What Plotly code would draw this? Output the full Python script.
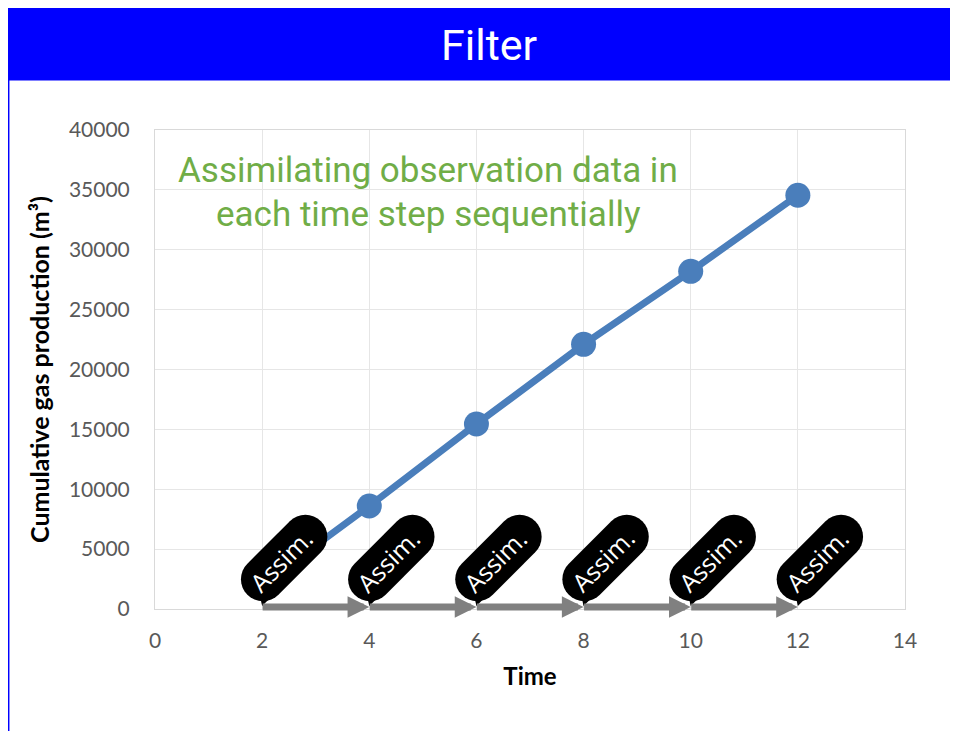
import numpy as np
import plotly.graph_objects as go

# ---------------- data ----------------
time_steps = [2, 4, 6, 8, 10, 12]
cum_gas = [2000, 8600, 15450, 22100, 28200, 34550]
assim_steps = [2, 4, 6, 8, 10, 12]
arrow_from = [2, 4, 6, 8, 10]
arrow_to = [4, 6, 8, 10, 12]
x_ticks = [0, 2, 4, 6, 8, 10, 12, 14]
y_ticks = [0, 5000, 10000, 15000, 20000, 25000, 30000, 35000, 40000]
title_text = "Filter"
note_lines = ["Assimilating observation data in", "each time step sequentially"]
callout_text = "Assim."
x_title = "Time"
y_title = "Cumulative gas production (m³)"

# ---------------- layout geometry ----------------
# the page body has an 8px margin, so the figure is sized to fit the window
OFF = 8
W, H = 958 - OFF, 739 - 2 * OFF
ML, MR, MT, MB = 155 - OFF, 53, 130 - OFF, 122
PW, PH = W - ML - MR, H - MT - MB


def pxx(sx):
    """screen x (window pixels) -> paper fraction"""
    return (sx - OFF - ML) / PW


def pxy(sy):
    """screen y (window pixels, from top) -> paper fraction"""
    return (H - MB - (sy - OFF)) / PH


LINE_BLUE = "#4A7EBB"
GREEN = "#70AD47"
TICK_GRAY = "#595959"

fig = go.Figure()
fig.add_trace(go.Scatter(
    x=time_steps, y=cum_gas, mode="lines+markers",
    line=dict(color=LINE_BLUE, width=7),
    marker=dict(color=LINE_BLUE, size=25),
    hoverinfo="skip", showlegend=False,
))

# callout geometry (pixels relative to the point it marks, y up)
TIP_Y = 3
CX, CY = 22, 51
A_HALF, RAD = 30, 22


def callout_body():
    ux, uy = np.cos(np.pi / 4), np.sin(np.pi / 4)
    vx, vy = -uy, ux
    e1 = (CX + A_HALF * ux, CY + A_HALF * uy)
    e2 = (CX - A_HALF * ux, CY - A_HALF * uy)
    pts = []
    for t in np.linspace(np.pi / 2, -np.pi / 2, 17):
        dx = np.cos(t) * ux + np.sin(t) * vx
        dy = np.cos(t) * uy + np.sin(t) * vy
        pts.append((e1[0] + RAD * dx, e1[1] + RAD * dy))
    for t in np.linspace(-np.pi / 2, -3 * np.pi / 2, 17):
        dx = np.cos(t) * ux + np.sin(t) * vx
        dy = np.cos(t) * uy + np.sin(t) * vy
        pts.append((e2[0] + RAD * dx, e2[1] + RAD * dy))
    return "M" + "L".join(f"{x:.2f},{y:.2f}" for x, y in pts) + "Z"


body_path = callout_body()
tail_path = f"M0,{TIP_Y}L-2.5,{TIP_Y + 11}L10,{TIP_Y + 10}Z"

shapes = []
# title bar
shapes.append(dict(type="rect", xref="paper", yref="paper",
                   x0=pxx(0), x1=pxx(970), y0=pxy(80.5), y1=pxy(-10),
                   fillcolor="#0000FF", line=dict(width=0), layer="above"))
# left frame line
shapes.append(dict(type="line", xref="paper", yref="paper",
                   x0=pxx(8.7), x1=pxx(8.7), y0=pxy(80), y1=pxy(760),
                   line=dict(color="#0000FF", width=1.5), layer="above"))

annotations = []
for s in assim_steps:
    for p in (body_path, tail_path):
        shapes.append(dict(type="path", xref="x", yref="y",
                           xsizemode="pixel", ysizemode="pixel",
                           xanchor=s, yanchor=0, path=p,
                           fillcolor="black", line=dict(width=0), layer="above"))
    annotations.append(dict(x=s, y=0, xref="x", yref="y", text=callout_text,
                            showarrow=False, textangle=-45,
                            xshift=CX - 3, yshift=CY - 2,
                            xanchor="center", yanchor="middle",
                            font=dict(family="Open Sans", size=25, color="white")))

for f, t in zip(arrow_from, arrow_to):
    annotations.append(dict(x=t, y=0, ax=f, ay=0, xref="x", yref="y",
                            axref="x", ayref="y", text=" ", showarrow=True,
                            arrowhead=2, arrowsize=0.62, arrowwidth=7,
                            arrowcolor="#808080", standoff=0, startstandoff=0,
                            yshift=2, borderpad=0, font=dict(size=1)))

annotations.append(dict(x=pxx(489), y=pxy(45), xref="paper", yref="paper",
                        text=title_text, showarrow=False,
                        xanchor="center", yanchor="middle",
                        font=dict(family="Roboto", size=43, color="white")))
for line_txt, yc in zip(note_lines, [170, 214]):
    annotations.append(dict(x=pxx(428), y=pxy(yc), xref="paper", yref="paper",
                            text=line_txt, showarrow=False,
                            xanchor="center", yanchor="middle",
                            font=dict(family="Roboto", size=35, color=GREEN)))

fig.update_layout(
    width=W, height=H,
    margin=dict(l=ML, r=MR, t=MT, b=MB, pad=0),
    paper_bgcolor="white", plot_bgcolor="white",
    shapes=shapes, annotations=annotations,
    showlegend=False,
    xaxis=dict(range=[0, 14], tickvals=x_ticks, ticktext=[str(v) for v in x_ticks],
               showgrid=True, gridcolor="#E6E6E6", gridwidth=1,
               zeroline=False, showline=True, mirror=True, linecolor="#D9D9D9",
               linewidth=1, ticks="", ticklabelstandoff=13,
               tickfont=dict(family="Lato", size=21, color=TICK_GRAY),
               title=dict(text=x_title, standoff=16,
                          font=dict(family="Lato", size=24, color="black", weight="bold"))),
    yaxis=dict(range=[0, 40000], tickvals=y_ticks, ticktext=[str(v) for v in y_ticks],
               showgrid=True, gridcolor="#E6E6E6", gridwidth=1,
               zeroline=False, showline=True, mirror=True, linecolor="#D9D9D9",
               linewidth=1, ticks="", ticklabelstandoff=20,
               tickfont=dict(family="Lato", size=21, color=TICK_GRAY),
               title=dict(text=y_title, standoff=12,
                          font=dict(family="Lato", size=25, color="black", weight="bold"))),
)

fig.write_html("out.html")
